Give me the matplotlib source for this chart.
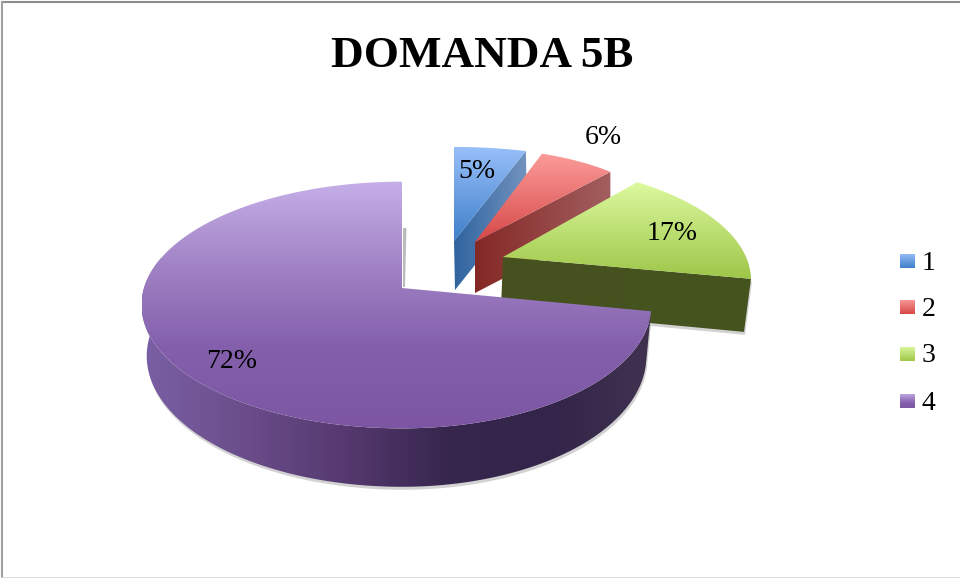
#!/usr/bin/env python3
"""Exploded perspective pie, DOMANDA 5B."""

import matplotlib

matplotlib.use("Agg")
import matplotlib.pyplot as plt
import numpy as np
from matplotlib.colors import LinearSegmentedColormap
from matplotlib.patches import Polygon

TITLE = "DOMANDA 5B"
categories = ["1", "2", "3", "4"]
values = [5, 6, 17, 72]

top_colors = [
    ["#99C0FA", "#3F7FC9"],
    ["#FB9C9B", "#D64846"],
    ["#DCF99F", "#9EC648"],
    ["#C6AFE8", "#A284C6", "#8460AC", "#7C56A3"],
]
side_colors = [
    ["#2F64A0", "#7393BE"],
    ["#842825", "#A35F60"],
    ["#45521F", "#46541F"],
    ["#7A60A4", "#6A4D8A", "#55396F", "#37264E", "#33254A", "#40324F"],
]

# projection of each slice: apex x, apex y, half width right, half width left,
# half height, perspective, bottom apex x, bottom apex y, bottom height and width scale
geometry = [
    (454, 241, 263, 263, 107, 0.138, 455, 290, 1.0, 1.0),
    (475, 242, 196, 196, 84, -0.10, 475, 293, 1.0, 1.0),
    (503, 257, 243, 243, 112, 0.20, 501, 309, 1.05, 0.98),
    (402, 288, 247, 258, 121, 0.138, 402, 338, 1.06, 0.98),
]
label_xy = [(477, 172), (603, 137), (672, 234), (232, 361)]
legend_y = [261, 307, 354, 401]


def points(theta, g, bottom=False):
    x0, y0, a_r, a_l, b, k, bx, by, bs, bw = g
    u, v = np.sin(theta), np.cos(theta)
    d = 1 + k * v
    a = np.where(u >= 0, a_r, a_l)
    if bottom:
        return np.column_stack([bx + bw * a * u / d, by - b * bs * v / d])
    return np.column_stack([x0 + a * u / d, y0 - b * v / d])


def gradient_fill(ax, pts, colors, vertical=True, zorder=2):
    cmap = LinearSegmentedColormap.from_list("g", colors)
    ramp = np.linspace(0, 1, 256)
    ramp = ramp[:, None] if vertical else ramp[None, :]
    xmin, ymin = pts.min(axis=0)
    xmax, ymax = pts.max(axis=0)
    im = ax.imshow(
        ramp, cmap=cmap, extent=(xmin, xmax, ymax, ymin), aspect="auto",
        interpolation="bilinear", zorder=zorder,
    )
    im.set_clip_path(Polygon(pts, closed=True, transform=ax.transData))


fig = plt.figure(figsize=(9.6, 5.78), dpi=100)
ax = fig.add_axes([0, 0, 1, 1])

# angles clockwise from 12 o'clock
edges = np.cumsum([0] + values) / sum(values) * 2 * np.pi

for i, g in enumerate(geometry):
    z = 2 + i * 2
    start, end = edges[i], edges[i + 1]
    arc = np.linspace(start, end, 200)
    top = points(arc, g)
    apex = np.array([[g[0], g[1]]])
    if i < 3:
        # cut face at the end of the slice
        side = np.vstack([
            apex,
            points(np.array([end]), g),
            points(np.array([end]), g, bottom=True),
            [[g[6], g[7]]],
        ])
    else:
        # outer wall from the right corner round to the left extreme
        wall = np.linspace(start, np.radians(285), 200)
        side = np.vstack([points(wall, g), points(wall, g, bottom=True)[::-1]])
    if i >= 2:
        ax.add_patch(Polygon(side + [1, 3], closed=True, fc="#808080", ec="none",
                             alpha=0.35, zorder=z))
    gradient_fill(ax, side, side_colors[i], vertical=False, zorder=z)
    gradient_fill(ax, np.vstack([apex, top]), top_colors[i], zorder=z + 1)

# shadow beside the cut of the large slice
g = geometry[3]
ax.add_patch(Polygon(
    [[g[0] + 1, g[1] - 1], [g[0] + 3, g[1] - 1], [g[0] + 4.5, g[1] - 60], [g[0] + 1, g[1] - 60]],
    closed=True, fc="#909090", ec="none", alpha=0.6, zorder=1,
))

for v, (x, y) in zip(values, label_xy):
    ax.text(x, y, f"{v}%", family="Liberation Serif", fontsize=20, ha="center",
            va="center", color="black", zorder=20)

for i, name in enumerate(categories):
    y = legend_y[i]
    swatch = np.array([[900, y - 7.5], [915, y - 7.5], [915, y + 7.5], [900, y + 7.5]])
    gradient_fill(ax, swatch, top_colors[i], zorder=20)
    ax.text(922, y + 2, name, family="Liberation Serif", fontsize=20, ha="left",
            va="center", color="black", zorder=20)

ax.text(482, 56, TITLE, family="Liberation Serif", fontweight="bold", fontsize=32.5,
        ha="center", va="center", color="black")

ax.set_xlim(0, 960)
ax.set_ylim(578, 0)
ax.axis("off")

# frame of the pasted chart: top, left and a faint bottom edge only
ax.plot([1.5, 960], [2, 2], color="#8C8C8C", lw=1.5, clip_on=False, zorder=30)
ax.plot([1.5, 1.5], [2, 578], color="#A0A0A0", lw=1.5, clip_on=False, zorder=30)
ax.plot([1.5, 960], [577.5, 577.5], color="#D4D4D4", lw=1.2, clip_on=False, zorder=30)

fig.savefig("out.png", dpi=100)
plt.close(fig)
